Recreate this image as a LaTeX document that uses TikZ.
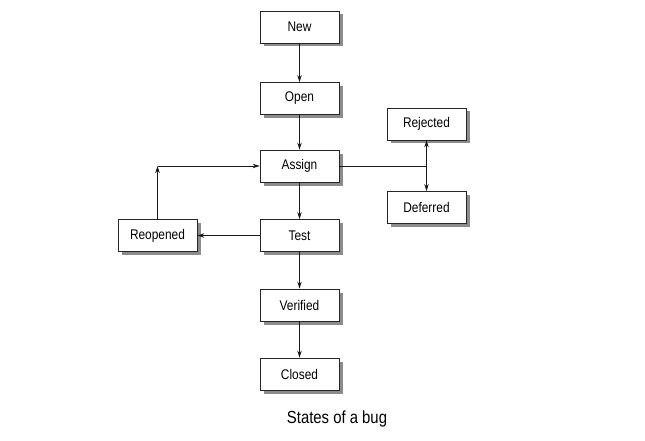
\documentclass[tikz,border=0pt]{standalone}
\usepackage{fontspec}
\setmainfont{Liberation Sans}[FakeStretch=0.85]
\usetikzlibrary{arrows.meta,shadows}
\begin{document}
\begin{tikzpicture}[x=1pt,y=-1pt,
  state/.style={draw=black!85, line width=0.8pt, fill=white, minimum width=79pt, minimum height=32pt, inner sep=0pt,
    font=\fontsize{14}{16}\selectfont,
    drop shadow={shadow xshift=3.5pt, shadow yshift=-3.5pt, fill=black!45, opacity=1}},
  conn/.style={draw=black!90, line width=0.8pt},
  arr/.style={conn, -{Stealth[length=7pt,width=4.5pt]}}]
\useasboundingbox (0,0) rectangle (645,441);
\node[state] (new) at (299.5,27) {New};
\node[state] (open) at (299.5,98.5) {Open};
\node[state] (assign) at (299.5,166) {Assign};
\node[state] (test) at (299.5,235.5) {Test};
\node[state] (verified) at (299.5,305) {Verified};
\node[state] (closed) at (299.5,374) {Closed};
\node[state] (reopened) at (157.5,235.5) {Reopened};
\node[state] (rejected) at (426.5,124) {Rejected};
\node[state] (deferred) at (426.5,207.5) {Deferred};
\coordinate (rc) at (157.5,166);
\coordinate (jc) at (426.5,166);
\node[font=\fontsize{17.5}{20}\selectfont] (cap) at (337,419) {States of a bug};
\draw[arr] (new) -- (open);
\draw[arr] (open) -- (assign);
\draw[arr] (assign) -- (test);
\draw[arr] (test) -- (verified);
\draw[arr] (verified) -- (closed);
\draw[arr] (test) -- (reopened);
\draw[arr] (reopened) -- (rc);
\draw[arr] (rc) -- (assign);
\draw[conn] (assign) -- (jc);
\draw[arr] (jc) -- (rejected);
\draw[arr] (jc) -- (deferred);
\end{tikzpicture}
\end{document}
